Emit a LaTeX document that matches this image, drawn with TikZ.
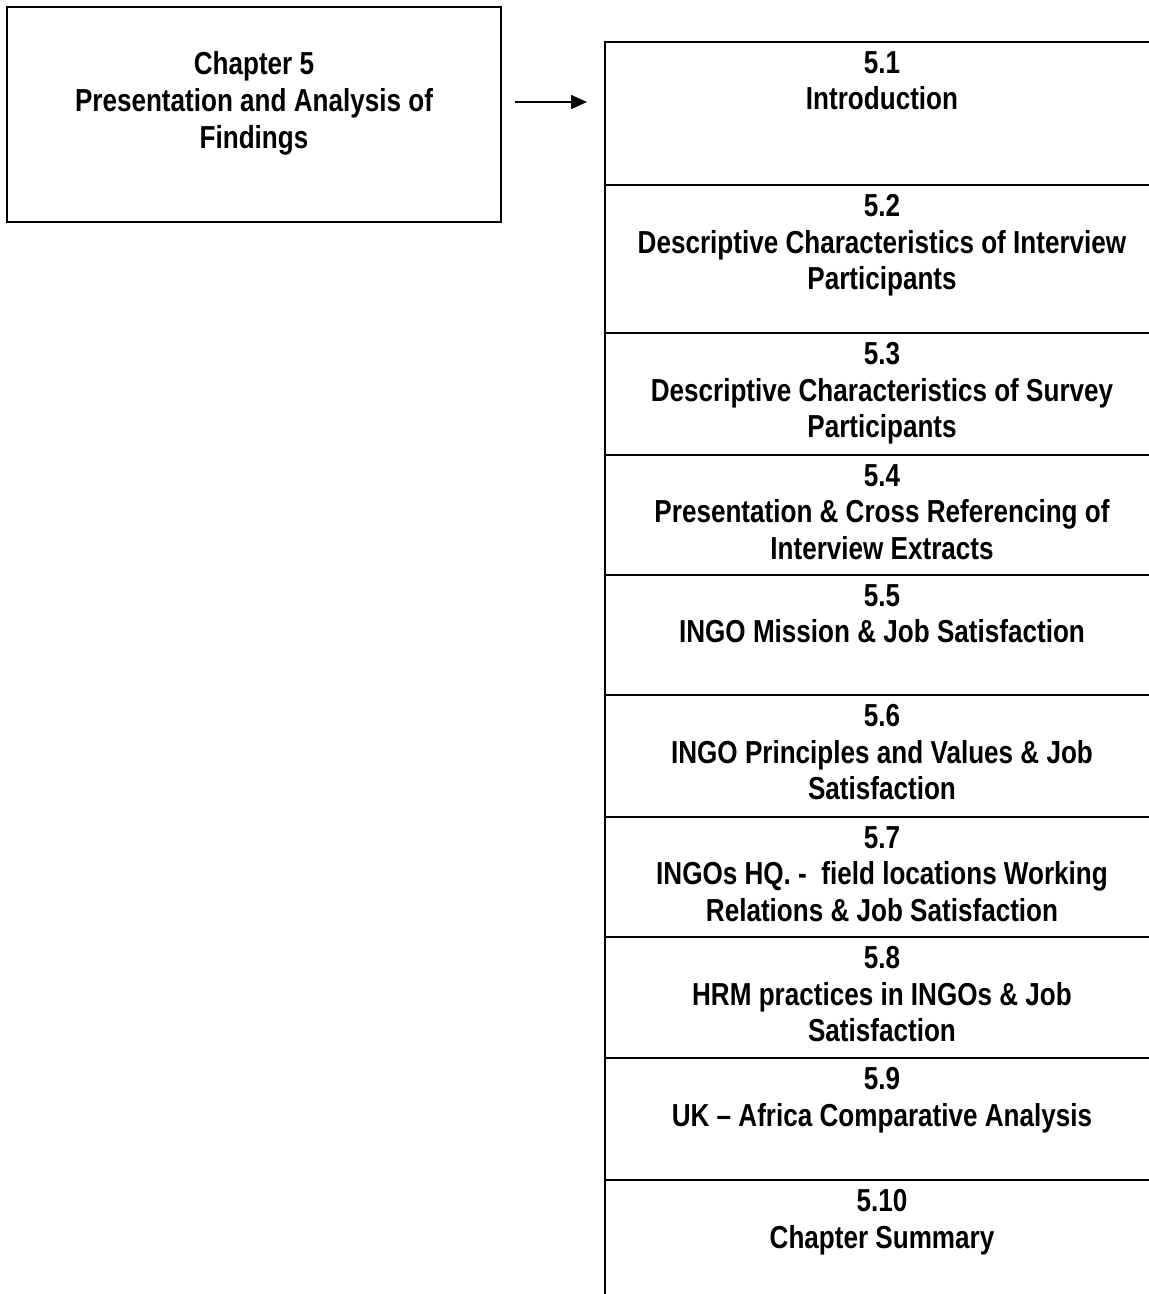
\documentclass[tikz,border=0pt]{standalone}
\usepackage{fontspec}
\setmainfont{Liberation Sans}[FakeStretch=0.82]
\usepackage{tikz}
\usetikzlibrary{arrows.meta, positioning}

\begin{document}
\begin{tikzpicture}[
  font=\bfseries\fontsize{18.1pt}{20.8pt}\selectfont,
  chap/.style  = {draw, minimum width=9.88cm, minimum height=4.30cm,
                  outer sep=0pt, line width=1.35pt},
  sec/.style   = {draw, minimum width=11.08cm, outer sep=0pt, inner sep=0pt,
                  line width=1.35pt},
  title/.style = {anchor=north, inner sep=0pt, align=center},
  arr/.style   = {-{Triangle[length=0.32cm, width=0.28cm]}, line width=0.9pt},
]

\path[use as bounding box, clip] (0,0) rectangle (22.98,-25.88);

%% Chapter box
\node[chap] (ch5) at (5.08,-2.29) {};
\node[title] (ch5t) at ([yshift=-0.89cm]ch5.north)
     {Chapter 5\\Presentation and Analysis of\\Findings};

%% Section stack
\node[sec, minimum height=2.86cm, anchor=north] (s51) at (17.64,-0.84) {};
\node[sec, minimum height=2.96cm, below=0pt of s51] (s52) {};
\node[sec, minimum height=2.44cm, below=0pt of s52] (s53) {};
\node[sec, minimum height=2.40cm, below=0pt of s53] (s54) {};
\node[sec, minimum height=2.40cm, below=0pt of s54] (s55) {};
\node[sec, minimum height=2.44cm, below=0pt of s55] (s56) {};
\node[sec, minimum height=2.40cm, below=0pt of s56] (s57) {};
\node[sec, minimum height=2.42cm, below=0pt of s57] (s58) {};
\node[sec, minimum height=2.44cm, below=0pt of s58] (s59) {};
\node[sec, minimum height=2.60cm, below=0pt of s59] (s510) {};

%% Section titles
\node[title] (t51) at ([yshift=-0.18cm]s51.north) {5.1\\Introduction};
\node[title] (t52) at ([yshift=-0.18cm]s52.north)
     {5.2\\Descriptive Characteristics of Interview\\Participants};
\node[title] (t53) at ([yshift=-0.18cm]s53.north)
     {5.3\\Descriptive Characteristics of Survey\\Participants};
\node[title] (t54) at ([yshift=-0.18cm]s54.north)
     {5.4\\Presentation \& Cross Referencing of\\Interview Extracts};
\node[title] (t55) at ([yshift=-0.18cm]s55.north)
     {5.5\\INGO Mission \& Job Satisfaction};
\node[title] (t56) at ([yshift=-0.18cm]s56.north)
     {5.6\\INGO Principles and Values \& Job\\Satisfaction};
\node[title] (t57) at ([yshift=-0.18cm]s57.north)
     {5.7\\INGOs HQ. -\ \ field locations Working\\Relations \& Job Satisfaction};
\node[title] (t58) at ([yshift=-0.18cm]s58.north)
     {5.8\\HRM practices in INGOs \& Job\\Satisfaction};
\node[title] (t59) at ([yshift=-0.18cm]s59.north)
     {5.9\\UK – Africa Comparative Analysis};
\node[title] (t510) at ([yshift=-0.18cm]s510.north)
     {5.10\\Chapter Summary};

%% Link
\draw[arr, shorten <=0.28cm, shorten >=0.36cm]
     ([yshift=0.25cm]ch5.east) -- ([yshift=0.25cm]ch5.east -| s51.west);

\end{tikzpicture}
\end{document}
